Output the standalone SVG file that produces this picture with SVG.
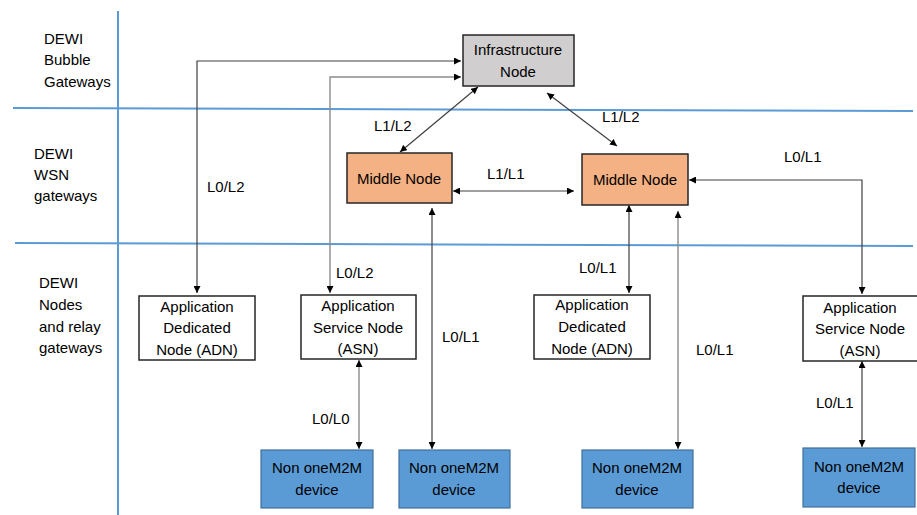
<svg xmlns="http://www.w3.org/2000/svg" width="917" height="515" viewBox="0 0 917 515">
<defs>
<marker id="ah" viewBox="0 0 8 8" refX="8" refY="4" markerWidth="7" markerHeight="7" markerUnits="userSpaceOnUse" orient="auto-start-reverse">
<path d="M0,0 L8,4 L0,8 z" fill="#000"/>
</marker>
<style>
text{font-family:"Liberation Sans",Arial,sans-serif;font-size:15px;fill:#000}
.c{text-anchor:middle}
.sep{stroke:#5b9bd5;stroke-width:2;fill:none}
.cn{fill:none;stroke:#404040;stroke-width:1.2}
.cg{fill:none;stroke:#8c8c8c;stroke-width:1.4}
.infra{fill:#d0cece;stroke:#262626;stroke-width:1.5}
.mid{fill:#f4b183;stroke:#262626;stroke-width:1.5}
.app{fill:#fff;stroke:#262626;stroke-width:1.5}
.dev{fill:#5b9bd5;stroke:#41719c;stroke-width:1.2}
</style>
</defs>
<g id="separators">
<line class="sep" x1="118" y1="11" x2="118" y2="515"/>
<line class="sep" x1="13" y1="108" x2="913" y2="111"/>
<line class="sep" x1="15" y1="243" x2="913" y2="246"/>
</g>
<g id="layer-labels">
<text x="44" y="44">DEWI</text><text x="44" y="65">Bubble</text><text x="44" y="87">Gateways</text>
<text x="34" y="159">DEWI</text><text x="34" y="180">WSN</text><text x="34" y="201">gateways</text>
<text x="39" y="288">DEWI</text><text x="39" y="310">Nodes</text><text x="39" y="332">and relay</text><text x="39" y="353">gateways</text>
</g>
<g id="connectors">
<polyline class="cn" points="197,293 197,61 461,61" marker-start="url(#ah)" marker-end="url(#ah)"/>
<polyline class="cg" points="330,293 330,77 461,77" marker-start="url(#ah)" marker-end="url(#ah)"/>
<line class="cn" x1="478" y1="87" x2="400" y2="152" marker-start="url(#ah)" marker-end="url(#ah)"/>
<line class="cn" x1="547" y1="93" x2="617" y2="146" marker-start="url(#ah)" marker-end="url(#ah)"/>
<line class="cn" x1="453" y1="191" x2="574" y2="191" marker-start="url(#ah)" marker-end="url(#ah)"/>
<polyline class="cn" points="689,180 862,180 862,294" marker-start="url(#ah)" marker-end="url(#ah)"/>
<line class="cn" x1="432" y1="208" x2="432" y2="449" marker-start="url(#ah)" marker-end="url(#ah)"/>
<line class="cn" x1="629" y1="205" x2="629" y2="293" marker-start="url(#ah)" marker-end="url(#ah)"/>
<line class="cg" x1="678" y1="211" x2="678" y2="449" marker-start="url(#ah)" marker-end="url(#ah)"/>
<line class="cg" x1="359" y1="360" x2="359" y2="449" marker-start="url(#ah)" marker-end="url(#ah)"/>
<line class="cn" x1="862" y1="361" x2="862" y2="447" marker-start="url(#ah)" marker-end="url(#ah)"/>
<text x="207" y="192">L0/L2</text>
<text x="374" y="131">L1/L2</text>
<text x="602" y="122">L1/L2</text>
<text x="487" y="179">L1/L1</text>
<text x="784" y="162">L0/L1</text>
<text x="336" y="278">L0/L2</text>
<text x="312" y="424">L0/L0</text>
<text x="442" y="342">L0/L1</text>
<text x="579" y="273">L0/L1</text>
<text x="696" y="355">L0/L1</text>
<text x="816" y="408">L0/L1</text>
</g>
<g id="infrastructure-node">
<rect class="infra" x="463" y="35" width="111" height="51"/>
<text class="c" x="518" y="55">Infrastructure</text><text class="c" x="518" y="77">Node</text>
</g>
<g id="middle-node-1">
<rect class="mid" x="347" y="153" width="105" height="50"/>
<text class="c" x="399" y="184">Middle Node</text>
</g>
<g id="middle-node-2">
<rect class="mid" x="582" y="154" width="106" height="51"/>
<text class="c" x="635" y="185">Middle Node</text>
</g>
<g id="adn-1">
<rect class="app" x="139" y="296" width="116" height="64"/>
<text class="c" x="197" y="312">Application</text><text class="c" x="197" y="333">Dedicated</text><text class="c" x="197" y="355">Node (ADN)</text>
</g>
<g id="asn-1">
<rect class="app" x="301" y="295" width="115" height="64"/>
<text class="c" x="358" y="311">Application</text><text class="c" x="358" y="333">Service Node</text><text class="c" x="358" y="354">(ASN)</text>
</g>
<g id="adn-2">
<rect class="app" x="534" y="295" width="116" height="64"/>
<text class="c" x="592" y="310">Application</text><text class="c" x="592" y="332">Dedicated</text><text class="c" x="592" y="354">Node (ADN)</text>
</g>
<g id="asn-2">
<rect class="app" x="803" y="296" width="116" height="65"/>
<text class="c" x="860" y="313">Application</text><text class="c" x="860" y="334">Service Node</text><text class="c" x="860" y="356">(ASN)</text>
</g>
<g id="device-1">
<rect class="dev" x="261" y="450" width="112" height="58"/>
<text class="c" x="317" y="473">Non oneM2M</text><text class="c" x="317" y="495">device</text>
</g>
<g id="device-2">
<rect class="dev" x="399" y="450" width="111" height="58"/>
<text class="c" x="454" y="473">Non oneM2M</text><text class="c" x="454" y="495">device</text>
</g>
<g id="device-3">
<rect class="dev" x="582" y="450" width="111" height="58"/>
<text class="c" x="637" y="473">Non oneM2M</text><text class="c" x="637" y="495">device</text>
</g>
<g id="device-4">
<rect class="dev" x="803" y="448" width="112" height="59"/>
<text class="c" x="859" y="472">Non oneM2M</text><text class="c" x="859" y="493">device</text>
</g>
</svg>
